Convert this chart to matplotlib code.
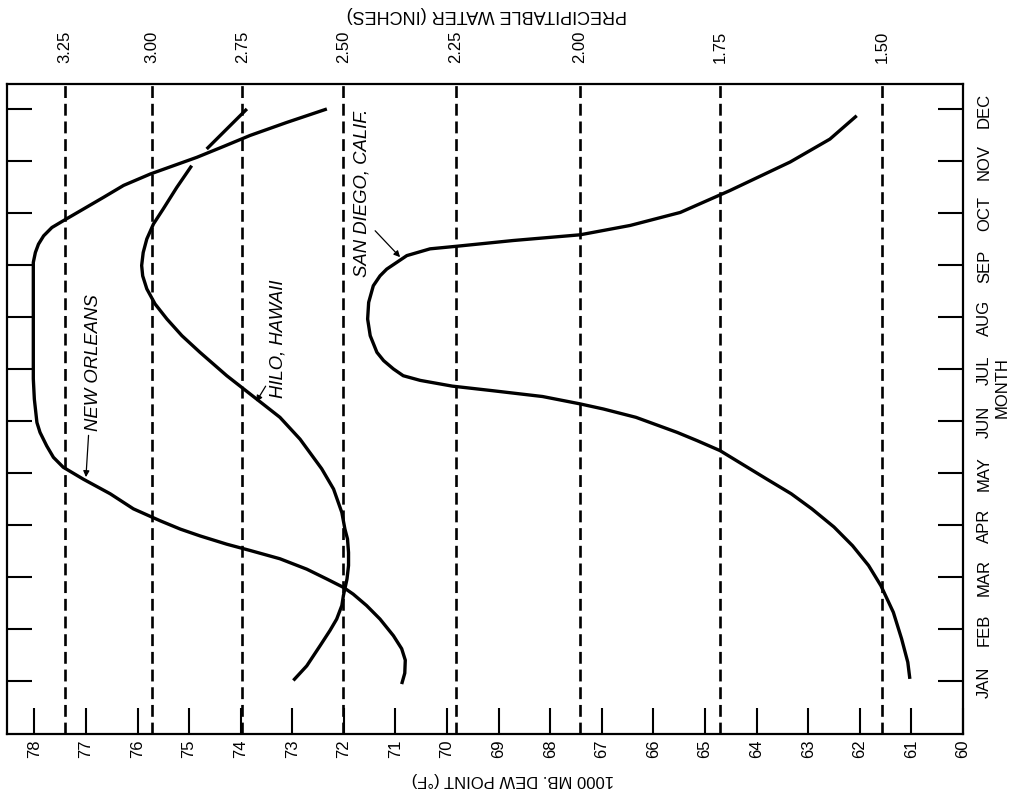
import numpy as np
import matplotlib
matplotlib.use("Agg")
import matplotlib.pyplot as plt

plt.rcParams['font.family'] = ['Liberation Sans', 'DejaVu Sans']

# month axis (right side) and dew point axis (bottom)
months = ['JAN', 'FEB', 'MAR', 'APR', 'MAY', 'JUN',
          'JUL', 'AUG', 'SEP', 'OCT', 'NOV', 'DEC']
dew_ticks = list(range(60, 79))

# precipitable water scale along the top, and the dew point each value sits at
pw_labels = ['3.25', '3.00', '2.75', '2.50', '2.25', '2.00', '1.75', '1.50']
pw_dew = [77.40, 75.72, 73.97, 72.01, 69.83, 67.43, 64.71, 61.57]

# curves: month index (0 = JAN) and 1000 mb dew point
no_month = [-0.06, 0.15, 0.40, 0.62, 0.87, 1.19, 1.45, 1.67, 1.80, 1.96, 2.15,
            2.35, 2.51, 2.63, 2.79, 2.92, 3.08, 3.31, 3.60, 3.88, 4.11, 4.30,
            4.52, 4.78, 4.97, 5.42, 5.81, 8.05, 8.24, 8.40, 8.56, 8.72, 8.85,
            9.04, 9.30, 9.53, 9.75, 9.91, 10.07, 10.28, 10.49, 10.74, 11.00]
no_dew = [70.88, 70.82, 70.81, 70.88, 71.04, 71.30, 71.56, 71.82, 72.01, 72.33,
          72.72, 73.24, 73.82, 74.27, 74.79, 75.17, 75.56, 76.08, 76.53, 77.05,
          77.44, 77.63, 77.76, 77.89, 77.95, 78.00, 78.02, 78.02, 77.98, 77.92,
          77.82, 77.66, 77.44, 77.11, 76.66, 76.27, 75.75, 75.30, 74.85, 74.33,
          73.82, 73.11, 72.33]

hilo_month = [0.01, 0.29, 0.68, 0.97, 1.19, 1.45, 1.64, 1.96, 2.22, 2.47, 2.73,
              2.92, 3.24, 3.69, 4.08, 4.65, 5.07, 5.42, 5.87, 6.32, 6.64, 6.96,
              7.25, 7.54, 7.79, 7.99, 8.24, 8.50, 8.79, 9.08, 9.49, 9.91,
              np.nan, 10.23, 11.00]
hilo_dew = [72.98, 72.72, 72.46, 72.27, 72.14, 72.04, 72.01, 71.94, 71.91, 71.91,
            71.93, 71.98, 72.04, 72.20, 72.43, 72.85, 73.24, 73.69, 74.27, 74.79,
            75.14, 75.43, 75.66, 75.82, 75.90, 75.92, 75.89, 75.82, 75.69, 75.50,
            75.24, 74.95, np.nan, 74.66, 73.88]

sd_month = [0.04, 0.36, 0.81, 1.32, 1.83, 2.22, 2.60, 2.96, 3.31, 3.60, 3.88,
            4.17, 4.43, 4.62, 4.78, 5.07, 5.23, 5.33, 5.47, 5.58, 5.67,
            5.78, 5.87, 6.00, 6.16, 6.32, 6.64, 6.96, 7.28, 7.60, 7.79, 7.92,
            8.18, 8.31, 8.36, 8.47, 8.58, 8.76, 9.01, 9.43, 9.98, 10.42, 10.87]
sd_dew = [61.03, 61.07, 61.19, 61.35, 61.59, 61.83, 62.14, 62.50, 62.93, 63.33,
          63.80, 64.28, 64.71, 65.15, 65.54, 66.34, 66.97, 67.43, 68.15, 69.10,
          69.90, 70.52, 70.85, 71.04, 71.23, 71.36, 71.49, 71.54, 71.52,
          71.43, 71.30, 71.17, 70.78, 70.33, 69.81, 68.72, 67.42, 66.45, 65.48,
          64.52, 63.35, 62.58, 62.06]

fig = plt.figure(figsize=(10.17, 8.03), dpi=100)
ax = fig.add_axes([7 / 1017, 68 / 803, 956 / 1017, 650 / 803])

ax.set_xlim(78.53, 60)
ax.set_ylim(-1.02, 11.48)

# precipitable water reference lines
for d in pw_dew:
    ax.axvline(d, color='black', lw=1.9, dashes=(4.5, 2.2))

line_kw = dict(color='black', lw=2.4, solid_capstyle='butt',
               solid_joinstyle='round')
ax.plot(no_dew, no_month, **line_kw)
ax.plot(hilo_dew, hilo_month, **line_kw)
ax.plot(sd_dew, sd_month, **line_kw)

for s in ax.spines.values():
    s.set_linewidth(1.6)

ax.set_xticks(dew_ticks)
ax.set_xticklabels([str(d) for d in dew_ticks], rotation=90, fontsize=12)
ax.set_yticks(range(12))
ax.set_yticklabels(months, rotation=90, fontsize=12, va='center')
ax.tick_params(axis='x', direction='in', length=19, width=1.5, pad=3,
               top=True, bottom=True, labeltop=False)
ax.tick_params(axis='y', direction='in', length=18, width=1.5, pad=10,
               left=True, right=True, labelleft=False, labelright=True)

ax2 = ax.twiny()
ax2.set_xlim(ax.get_xlim())
ax2.set_xticks(pw_dew)
ax2.set_xticklabels(pw_labels, rotation=90, fontsize=12)
ax2.tick_params(axis='x', length=0, pad=16)
for s in ax2.spines.values():
    s.set_visible(False)

# station labels
txt_kw = dict(rotation=90, fontsize=13.3, style='italic', ha='center',
              annotation_clip=False)
ax.annotate('NEW ORLEANS', xy=(77.0, 3.92), xytext=(76.86, 4.83), va='bottom',
            arrowprops=dict(arrowstyle='-|>', lw=0.9, color='black',
                            mutation_scale=9, shrinkB=0), **txt_kw)
ax.annotate('HILO, HAWAII', xy=(73.70, 5.37), xytext=(73.27, 6.6), va='center',
            arrowprops=dict(arrowstyle='-|>', lw=0.9, color='black',
                            mutation_scale=9, shrinkB=0, relpos=(0.0, 0.15)),
            **txt_kw)
ax.annotate('SAN DIEGO, CALIF.', xy=(70.91, 8.15), xytext=(71.65, 9.4),
            va='center',
            arrowprops=dict(arrowstyle='-|>', lw=0.9, color='black',
                            mutation_scale=9, shrinkB=0, relpos=(1.0, 0.3)),
            **txt_kw)

# axis titles (the scan has them turned over)
fig.text(513 / 1017, 1 - 780 / 803, '1000 MB. DEW POINT (°F)', rotation=180,
         ha='center', va='center', fontsize=12)
fig.text(487 / 1017, 1 - 15 / 803, 'PRECIPITABLE WATER (INCHES)', rotation=180,
         ha='center', va='center', fontsize=13)
fig.text(1002 / 1017, 1 - 388 / 803, 'MONTH', rotation=90,
         ha='center', va='center', fontsize=12)

fig.savefig('out.png', dpi=100)
